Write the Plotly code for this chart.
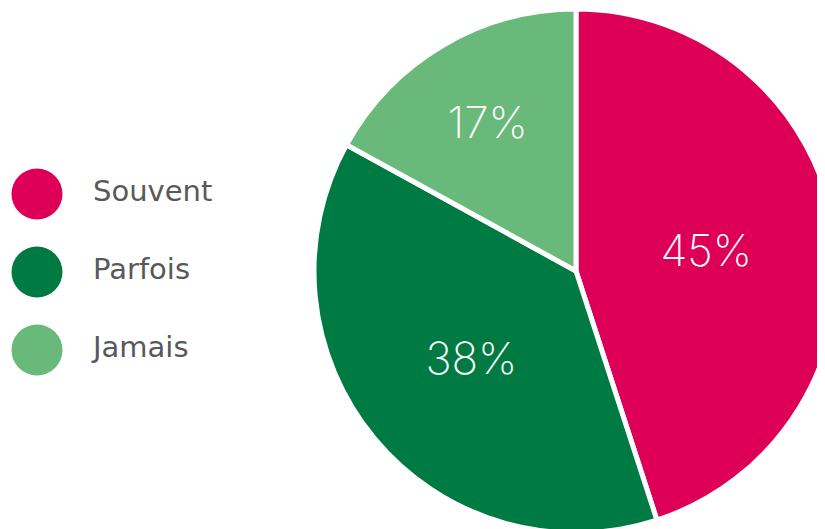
import plotly.graph_objects as go

categories = ["Souvent", "Parfois", "Jamais"]
values = [45, 38, 17]
colors = ["#DE0057", "#007A43", "#69B97A"]

# page body adds an 8px offset; the figure is a bit larger than the window
W, H = 832, 530
OFF = 8

fig = go.Figure()

fig.add_trace(go.Pie(
    labels=categories,
    values=values,
    sort=False,
    direction="clockwise",
    rotation=0,
    marker=dict(colors=colors, line=dict(color="white", width=5)),
    textinfo="percent",
    textposition="inside",
    insidetextorientation="horizontal",
    textfont=dict(family="Inter", size=44, color="white", weight=200),
    domain=dict(x=[306 / W, 830 / W], y=[(H - 525) / H, (H - 1) / H]),
    showlegend=False,
    hoverinfo="label+percent",
))

# legend drawn as markers on a hidden axis
fig.add_trace(go.Scatter(
    x=[0] * len(categories),
    y=categories,
    mode="markers",
    marker=dict(size=51, color=colors),
    showlegend=False,
    hoverinfo="skip",
))
fig.add_trace(go.Scatter(
    x=[56] * len(categories),
    y=categories,
    mode="text",
    text=categories,
    textposition="middle right",
    textfont=dict(family="DejaVu Sans", size=29, color="#58595B"),
    showlegend=False,
    hoverinfo="skip",
))

top, band = 194 - 39 - OFF, 78
fig.update_layout(
    width=W,
    height=H,
    margin=dict(l=0, r=0, t=0, b=0),
    paper_bgcolor="white",
    plot_bgcolor="white",
    xaxis=dict(domain=[0, 300 / W], range=[-(37 - OFF), 300 - (37 - OFF)],
               visible=False, fixedrange=True),
    yaxis=dict(domain=[(H - top - 3 * band) / H, (H - top) / H], range=[2.5, -0.5],
               type="category", visible=False, fixedrange=True),
)

fig.write_html("out.html")
